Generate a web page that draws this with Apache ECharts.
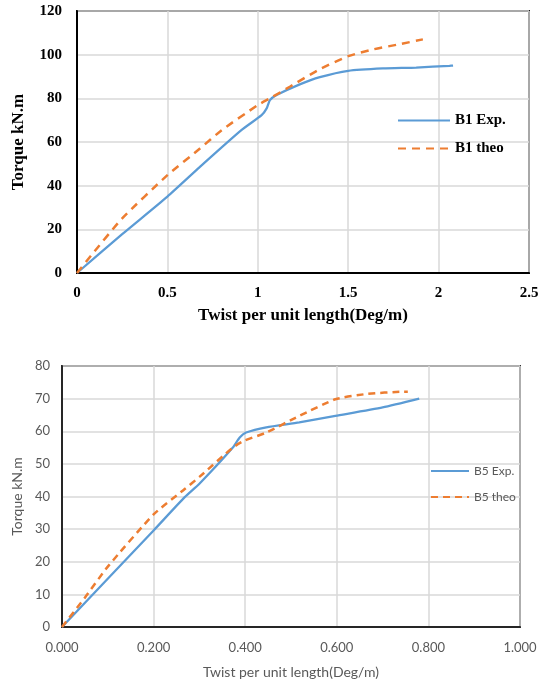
<!DOCTYPE html>
<html><head><meta charset="utf-8">
<script src="https://cdn.jsdelivr.net/npm/echarts@6/dist/echarts.min.js"></script>
<style>html,body{margin:0;padding:0;background:#fff}#c{width:542px;height:681px}</style>
</head><body><div id="c"></div><script>
// ---- data ----
const b1ExpTwist   = [0, 0.25, 0.5, 0.68, 0.909, 1.021, 1.049, 1.067, 1.104, 1.232, 1.343, 1.5, 1.692, 1.876, 2.06, 2.08];
const b1ExpTorque  = [0, 17.8, 35, 48.6, 65.4, 72.3, 75.4, 79.2, 81.5, 86.4, 89.7, 92.6, 93.7, 94.1, 94.9, 95];
const b1TheoTwist  = [0, 0.08, 0.25, 0.5, 0.68, 0.8, 1.0, 1.076, 1.177, 1.333, 1.5, 1.637, 1.784, 1.913];
const b1TheoTorque = [0, 8.2, 25, 44.8, 57, 65.4, 76.9, 80.4, 85.3, 92.9, 99.3, 102.4, 104.8, 107];

const b5ExpTwist   = [0, 0.2, 0.268, 0.3, 0.373, 0.388, 0.402, 0.446, 0.518, 0.597, 0.7, 0.78];
const b5ExpTorque  = [0, 29.6, 39.8, 43.9, 55, 58.1, 59.6, 61.2, 62.7, 64.7, 67.3, 70];
const b5TheoTwist  = [0, 0.05, 0.1, 0.2, 0.268, 0.3, 0.373, 0.398, 0.446, 0.518, 0.597, 0.664, 0.744, 0.755];
const b5TheoTorque = [0, 9, 18.5, 34.5, 42.3, 46, 55, 57.1, 59.6, 64.7, 69.8, 71.4, 72.1, 72.1];

const seriesNames = ['B1 Exp.', 'B1 theo', 'B5 Exp.', 'B5 theo'];
const xTitle = 'Twist per unit length(Deg/m)';
const yTitle = 'Torque kN.m';
const topX = {min: 0, max: 2.5, interval: 0.5};
const topY = {min: 0, max: 120, interval: 20};
const botX = {min: 0, max: 1.0, interval: 0.2};
const botY = {min: 0, max: 80, interval: 10};

const pairs = (xs, ys) => xs.map((x, i) => [x, ys[i]]);

const serif = 'Liberation Serif';
const sans = 'Lato';
const gridLine = {show: true, lineStyle: {color: '#d9d9d9', width: 1.5}};

const chart = echarts.init(document.getElementById('c'), null, {renderer: 'canvas'});
chart.setOption({
  animation: false,
  backgroundColor: '#fff',
  grid: [
    {left: 77, top: 11, width: 452, height: 262, show: true, borderColor: '#1a1a1a', borderWidth: 2, containLabel: false},
    {left: 62, top: 366, width: 458, height: 261, show: true, borderColor: '#333', borderWidth: 2, containLabel: false}
  ],
  xAxis: [
    {gridIndex: 0, type: 'value', min: topX.min, max: topX.max, interval: topX.interval,
     name: xTitle, nameLocation: 'middle', nameGap: 34,
     nameTextStyle: {fontFamily: serif, fontWeight: 'bold', fontSize: 17, color: '#000'},
     axisLine: {show: true, lineStyle: {color: '#000', width: 2}}, axisTick: {show: false},
     axisLabel: {margin: 13, fontFamily: serif, fontWeight: 'bold', fontSize: 15, color: '#000'},
     splitLine: gridLine},
    {gridIndex: 1, type: 'value', min: botX.min, max: botX.max, interval: botX.interval,
     name: xTitle, nameLocation: 'middle', nameGap: 38,
     nameTextStyle: {fontFamily: sans, fontSize: 14, color: '#595959'},
     axisLine: {show: true, lineStyle: {color: '#262626', width: 2}}, axisTick: {show: false},
     axisLabel: {margin: 14, fontFamily: sans, fontSize: 13, color: '#595959', formatter: v => v.toFixed(3)},
     splitLine: gridLine}
  ],
  yAxis: [
    {gridIndex: 0, type: 'value', min: topY.min, max: topY.max, interval: topY.interval,
     name: yTitle, nameLocation: 'middle', nameGap: 50,
     nameTextStyle: {fontFamily: serif, fontWeight: 'bold', fontSize: 17, color: '#000'},
     axisLine: {show: true, lineStyle: {color: '#000', width: 2}}, axisTick: {show: false},
     axisLabel: {margin: 15, fontFamily: serif, fontWeight: 'bold', fontSize: 15, color: '#000'},
     splitLine: gridLine},
    {gridIndex: 1, type: 'value', min: botY.min, max: botY.max, interval: botY.interval,
     name: yTitle, nameLocation: 'middle', nameGap: 31,
     nameTextStyle: {fontFamily: sans, fontSize: 14, color: '#595959'},
     axisLine: {show: true, lineStyle: {color: '#262626', width: 2}}, axisTick: {show: false},
     axisLabel: {margin: 12, fontFamily: sans, fontSize: 13, color: '#595959'},
     splitLine: gridLine}
  ],
  legend: [
    {data: [seriesNames[0], seriesNames[1]], orient: 'vertical', left: 392, top: 108,
     itemWidth: 52, itemHeight: 14, itemGap: 13, selectedMode: false, itemStyle: {opacity: 0},
     textStyle: {fontFamily: serif, fontWeight: 'bold', fontSize: 15, color: '#000'}},
    {data: [seriesNames[2], seriesNames[3]], orient: 'vertical', left: 425, top: 460,
     itemWidth: 38, itemHeight: 14, itemGap: 14, selectedMode: false, itemStyle: {opacity: 0},
     textStyle: {fontFamily: sans, fontSize: 12, color: '#595959'}}
  ],
  series: [
    {name: seriesNames[0], type: 'line', xAxisIndex: 0, yAxisIndex: 0, data: pairs(b1ExpTwist, b1ExpTorque),
     symbol: 'none', smooth: 0.2, lineStyle: {color: '#5B9BD5', width: 2.25}, itemStyle: {color: '#5B9BD5'}},
    {name: seriesNames[1], type: 'line', xAxisIndex: 0, yAxisIndex: 0, data: pairs(b1TheoTwist, b1TheoTorque),
     symbol: 'none', smooth: 0.2, lineStyle: {color: '#ED7D31', width: 2.5, type: [8, 6]}, itemStyle: {color: '#ED7D31'}},
    {name: seriesNames[2], type: 'line', xAxisIndex: 1, yAxisIndex: 1, data: pairs(b5ExpTwist, b5ExpTorque),
     symbol: 'none', smooth: 0.2, lineStyle: {color: '#5B9BD5', width: 2.25}, itemStyle: {color: '#5B9BD5'}},
    {name: seriesNames[3], type: 'line', xAxisIndex: 1, yAxisIndex: 1, data: pairs(b5TheoTwist, b5TheoTorque),
     symbol: 'none', smooth: 0.2, lineStyle: {color: '#ED7D31', width: 2.5, type: [7, 5]}, itemStyle: {color: '#ED7D31'}}
  ]
});
</script></body></html>
